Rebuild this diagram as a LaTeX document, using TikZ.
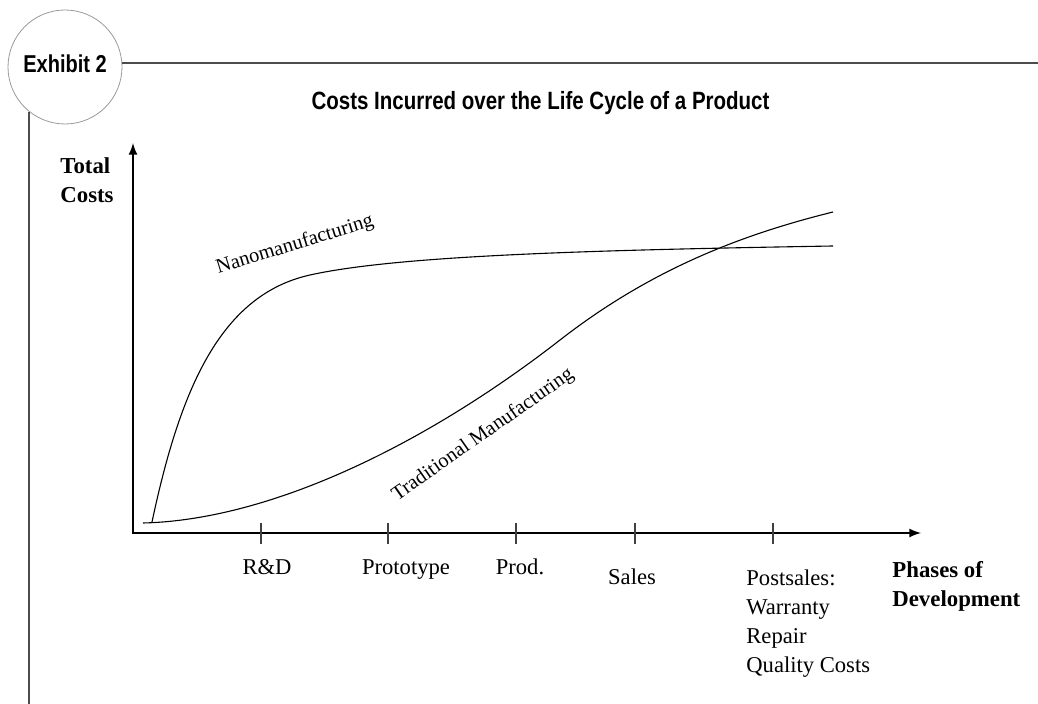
\documentclass[tikz,border=0pt]{standalone}
\usepackage{fontspec}
\setmainfont{Liberation Serif}
\newfontfamily\headfont[FakeStretch=0.82]{Liberation Sans}
\usetikzlibrary{arrows,positioning}

\tikzset{
  rule/.style={draw=black!70, line width=0.7pt},
  axis/.style={line width=1pt},
  tick/.style={draw=black!75, line width=0.6pt},
  curve/.style={line width=0.55pt},
  phase/.style={font=\fontsize{11.3}{14.5}\selectfont, inner sep=0pt},
  axtitle/.style={font=\fontsize{11.4}{14.5}\selectfont\bfseries, inner sep=0pt, align=left},
  curvelbl/.style={font=\fontsize{10.2}{12}\selectfont, inner sep=0pt},
  headtxt/.style={font=\headfont\bfseries, inner sep=0pt}
}

\begin{document}
\begin{tikzpicture}[x=0.5pt,y=-0.5pt]
  \useasboundingbox (0,0) rectangle (1038,704);

  % exhibit tag and frame lines
  \node[circle, draw=black!40, line width=0.4pt, minimum size=57pt, inner sep=0pt] (tag) at (65,67) {};
  \node[headtxt, font=\fontsize{12.2}{14}\selectfont\headfont\bfseries] (exhibit) at (65,63.5) {Exhibit 2};
  \coordinate (rightedge) at (1038,0);
  \coordinate (bottomedge) at (0,704);
  \draw[rule] (tag.4) -- (tag.4 -| rightedge);
  \draw[rule] (tag.231) -- (tag.231 |- bottomedge);

  \node[headtxt, font=\fontsize{12.5}{14}\selectfont\headfont\bfseries] (title) at (540.5,103) {Costs Incurred over the Life Cycle of a Product};

  % axes
  \coordinate (origin) at (133,533);
  \coordinate (ytip) at (133,143);
  \coordinate (xtip) at (921,533);
  \draw[axis, latex-latex] (ytip) -- (origin) -- (xtip);
  \foreach \x in {261,388,516,635,773}
    \draw[tick] (\x,523) -- (\x,544);

  \node[axtitle, anchor=north west] (ylabel) at (60,157) {Total\\Costs};
  \node[axtitle, anchor=north west] (xlabel) at (892,561) {Phases of\\Development};

  % phases
  \node[phase, anchor=base] (rd) at (267,575) {R\&D};
  \node[phase, anchor=base] (proto) at (406,575) {Prototype};
  \node[phase, anchor=base] (prod) at (520,575) {Prod.};
  \node[phase, anchor=base] (sales) at (632,585) {Sales};
  \node[phase, anchor=north west, align=left] (post) at (746,569) {Postsales:\\Warranty\\Repair\\Quality Costs};

  % cost curves
  \draw[curve] (152,522) .. controls (180,390) and (220,295) .. (310,275)
                         .. controls (400,255) and (600,250) .. (833,246);
  \draw[curve] (143,523) .. controls (270,520) and (425,445) .. (560,340)
                         .. controls (650,270) and (740,235) .. (833,212);

  \node[curvelbl, rotate=17] (nano) at (295,245) {Nanomanufacturing};
  \node[curvelbl, rotate=35] (trad) at (483,435) {Traditional Manufacturing};
\end{tikzpicture}
\end{document}
